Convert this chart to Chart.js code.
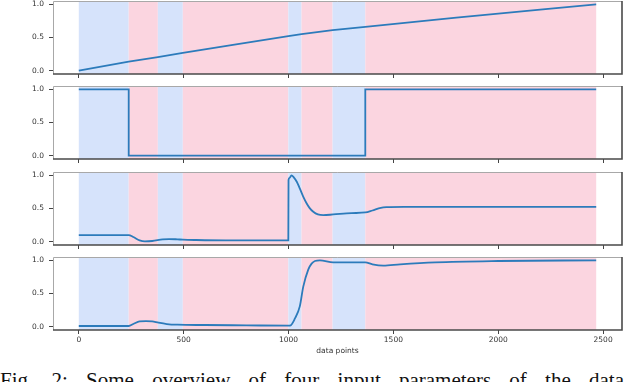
<!DOCTYPE html>
<html>
<head>
<meta charset="utf-8">
<script src="https://cdn.jsdelivr.net/npm/chart.js@4"></script>
<style>
  html,body{margin:0;padding:0;background:#fff;overflow:hidden;}
  #wrap{position:relative;width:640px;height:382px;overflow:hidden;background:#fff;}
  .pan{position:absolute;left:0;}
  #cap{position:absolute;left:0;top:370px;width:700px;font-family:'Liberation Serif','Times New Roman',serif;
       font-size:21px;line-height:21px;color:#111;white-space:nowrap;word-spacing:13px;}
</style>
</head>
<body>
<div id="wrap">
  <canvas id="c1" class="pan"></canvas>
  <canvas id="c2" class="pan"></canvas>
  <canvas id="c3" class="pan"></canvas>
  <canvas id="c4" class="pan"></canvas>
  <div id="cap">Fig. 2: Some overview of four input parameters of the data</div>
</div>
<script>
// ── dados ─────────────────────────────────────────
const xTicks = [0, 500, 1000, 1500, 2000, 2500];
const yTicks = [0, 0.5, 1];
const xLabel = 'data points';

// faixas sombreadas (início, fim, tipo)
const regStart = [0, 238, 377, 496, 999, 1062, 1210, 1366];
const regEnd   = [238, 377, 496, 999, 1062, 1210, 1366, 2467];
const regKind  = ['b', 'p', 'b', 'p', 'b', 'p', 'b', 'p'];

const p1X = [0, 238, 377, 496, 750, 999, 1062, 1210, 1366, 1800, 2200, 2467];
const p1Y = [0, 0.135, 0.205, 0.27, 0.395, 0.52, 0.55, 0.61, 0.66, 0.8, 0.92, 1.0];

const p2X = [0, 238, 238, 1366, 1366, 2467];
const p2Y = [1, 1, 0, 0, 1, 1];

const p3X = [0, 238, 260, 290, 315, 350, 400, 430, 470, 496, 560, 700, 999, 1000, 1005, 1014, 1025, 1040, 1054, 1070, 1086, 1100, 1118, 1140, 1166, 1213, 1300, 1366, 1400, 1440, 1467, 1550, 1800, 2467];
const p3Y = [0.1, 0.1, 0.07, 0.02, 0.005, 0.01, 0.035, 0.04, 0.035, 0.03, 0.025, 0.02, 0.02, 0.93, 0.96, 1.0, 0.97, 0.9, 0.8, 0.68, 0.58, 0.51, 0.45, 0.41, 0.40, 0.41, 0.43, 0.44, 0.47, 0.51, 0.52, 0.525, 0.525, 0.525];

const p4X = [0, 238, 260, 290, 320, 350, 380, 420, 470, 600, 800, 1000, 1010, 1030, 1054, 1070, 1094, 1110, 1126, 1150, 1213, 1300, 1366, 1400, 1452, 1532, 1700, 2000, 2467];
const p4Y = [0.01, 0.01, 0.04, 0.08, 0.085, 0.08, 0.06, 0.04, 0.03, 0.025, 0.02, 0.015, 0.02, 0.12, 0.31, 0.6, 0.86, 0.95, 0.99, 1.0, 0.97, 0.97, 0.97, 0.94, 0.92, 0.94, 0.97, 0.99, 1.0];

// ── estilo ────────────────────────────────────────
const COR_LINHA = '#2c7bbb';
const COR_FAIXA = { b: '#d6e3fb', p: '#fbd5e0' };
const FONTE = { family: "'DejaVu Sans', sans-serif", size: 7.5 };
const AREA_H = 73, PAD_T = 2;

const faixas = {
  id: 'faixas',
  beforeDatasetsDraw(chart) {
    const { ctx, chartArea: a, scales: { x } } = chart;
    ctx.save();
    regStart.forEach((s, i) => {
      const x0 = x.getPixelForValue(s), x1 = x.getPixelForValue(regEnd[i]);
      ctx.fillStyle = COR_FAIXA[regKind[i]];
      ctx.fillRect(x0, a.top, x1 - x0, a.bottom - a.top);
    });
    ctx.restore();
  }
};

const moldura = {
  id: 'moldura',
  afterDatasetsDraw(chart) {
    const { ctx, chartArea: a } = chart;
    ctx.save();
    ctx.strokeStyle = '#a8a8a8'; ctx.lineWidth = 1;
    ctx.beginPath();
    ctx.moveTo(a.left + 0.5, a.bottom); ctx.lineTo(a.left + 0.5, a.top + 0.5); ctx.lineTo(a.right, a.top + 0.5);
    ctx.stroke();
    ctx.strokeStyle = '#4a4a4a'; ctx.lineWidth = 1.6;
    ctx.beginPath();
    ctx.moveTo(a.left, a.bottom); ctx.lineTo(a.right, a.bottom); ctx.lineTo(a.right, a.top);
    ctx.stroke();
    ctx.restore();
  }
};

function painel(id, top, xs, ys, ultimo, suave) {
  const axisH = ultimo ? 30 : 6;
  const cv = document.getElementById(id);
  cv.width = 640; cv.height = PAD_T + AREA_H + axisH;
  cv.style.top = (top - PAD_T) + 'px';
  return new Chart(cv, {
    type: 'line',
    data: {
      datasets: [{
        data: xs.map((v, i) => ({ x: v, y: ys[i] })),
        borderColor: COR_LINHA, borderWidth: 1.8, pointRadius: 0,
        tension: 0, cubicInterpolationMode: suave ? 'monotone' : 'default', fill: false,
      }]
    },
    plugins: [faixas, moldura],
    options: {
      responsive: false, animation: false,
      layout: { padding: { top: PAD_T, right: 18, left: 0, bottom: 0 } },
      plugins: { legend: { display: false }, tooltip: { enabled: false } },
      scales: {
        x: {
          type: 'linear', min: -123, max: 2590,
          afterBuildTicks: s => { s.ticks = xTicks.map(v => ({ value: v })); },
          afterFit: s => { s.height = axisH; s.paddingLeft = 0; s.paddingRight = 0; },
          grid: { drawOnChartArea: false, drawTicks: true, tickLength: 4, color: '#444', lineWidth: 1 },
          border: { display: false },
          ticks: { display: ultimo, padding: 2, color: '#333', font: FONTE, maxRotation: 0,
                   callback: v => String(v) },
          title: { display: ultimo, text: xLabel, color: '#333', font: FONTE, padding: { top: 2, bottom: 4 } },
        },
        y: {
          type: 'linear', min: -0.05, max: 1.05,
          afterBuildTicks: s => { s.ticks = yTicks.map(v => ({ value: v })); },
          afterFit: s => { s.width = 53; s.paddingTop = 0; s.paddingBottom = 0; },
          grid: { drawOnChartArea: false, drawTicks: true, tickLength: 4, color: '#444', lineWidth: 1 },
          border: { display: false },
          ticks: { padding: 5, color: '#333', font: FONTE, callback: v => Number(v).toFixed(1) },
        }
      }
    }
  });
}

painel('c1', 1,   p1X, p1Y, false, false);
painel('c2', 86,  p2X, p2Y, false, false);
painel('c3', 172, p3X, p3Y, false, true);
painel('c4', 257, p4X, p4Y, true,  true);
</script>
</body>
</html>
